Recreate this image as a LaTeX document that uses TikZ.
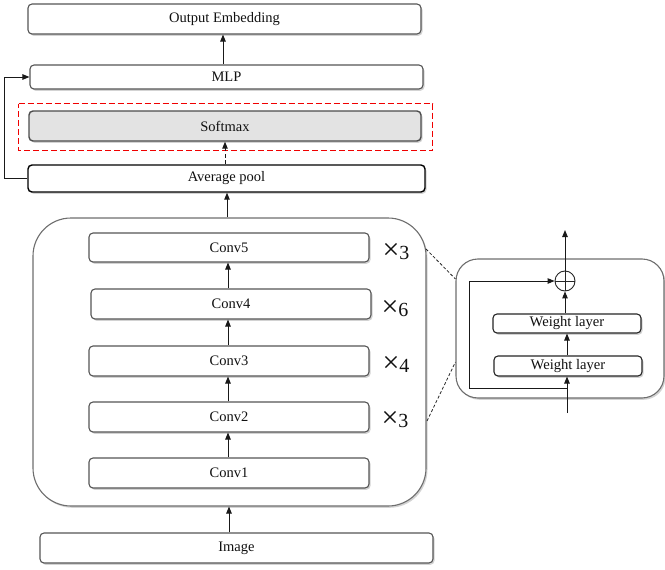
\documentclass[tikz,border=0pt]{standalone}
\usepackage{fontspec}
\setmainfont{Liberation Serif}
\usetikzlibrary{shadows,arrows.meta,calc}
\definecolor{edge}{HTML}{555555}
\definecolor{txt}{HTML}{111111}
\definecolor{redline}{RGB}{240,0,0}
\begin{document}
\begin{tikzpicture}[x=1pt,y=-1pt,
  box/.style={draw=edge, line width=1.1pt, rounded corners=4pt, fill=white, inner sep=0pt,
    text=txt, font=\fontsize{14.5}{16}\selectfont,
    drop shadow={shadow xshift=1.5pt, shadow yshift=-1.8pt, opacity=0.35, fill=gray}},
  wbox/.style={box, font=\fontsize{14.6}{16}\selectfont, line width=1.1pt, draw=black!85},
  arr/.style={-{Triangle[length=7pt,width=5.5pt]}, line width=1pt, draw=black!90},
  mult/.style={text=txt, font=\fontsize{20}{22}\selectfont, inner sep=0pt},
  reddash/.style={draw=redline, line width=1.3pt, dash pattern=on 6pt off 3pt},
  dline/.style={dashed, dash pattern=on 3pt off 2pt, line width=0.8pt, draw=black!85}]
\useasboundingbox (0,0) rectangle (665,570);

% top column
\node[box, minimum width=393pt, minimum height=30pt] (out) at (224.5,19) {Output Embedding};
\node[box, minimum width=393pt, minimum height=24pt] (mlp) at (226.5,77) {MLP};
\node[box, fill=black!11, draw=black!70, line width=1.4pt, minimum width=392pt, minimum height=30pt] (soft) at (225,126) {Softmax};
\coordinate (r1) at (18.5,103.5);
\coordinate (r2) at (432.5,103.5);
\coordinate (r3) at (432.5,150.5);
\coordinate (r4) at (18.5,150.5);
\draw[reddash] (r1) -- (r2) -- (r3) -- (r4) -- cycle;
\node[box, draw=black, line width=1.4pt, minimum width=397pt, minimum height=27pt] (avg) at (226.5,178.5) {Average pool};

% backbone
\node[box, draw=edge!85, line width=1.1pt, rounded corners=38pt, minimum width=393pt, minimum height=288pt] (big) at (229.5,362) {};
\node[box, minimum width=280pt, minimum height=29pt] (c5) at (229,247.5) {Conv5};
\node[box, minimum width=280pt, minimum height=30pt] (c4) at (231,304) {Conv4};
\node[box, minimum width=280pt, minimum height=30pt] (c3) at (229,361) {Conv3};
\node[box, minimum width=280pt, minimum height=30pt] (c2) at (229,417) {Conv2};
\node[box, minimum width=280pt, minimum height=30pt] (c1) at (229,473) {Conv1};
\node[mult] (m5) at (396,252) {{\fontsize{30}{30}\selectfont ×}3};
\node[mult] (m4) at (395,309) {{\fontsize{30}{30}\selectfont ×}6};
\node[mult] (m3) at (396,364) {{\fontsize{30}{30}\selectfont ×}4};
\node[mult] (m2) at (395,420) {{\fontsize{30}{30}\selectfont ×}3};
\node[box, minimum width=393pt, minimum height=30pt] (img) at (236.5,548) {Image};

% residual block
\node[box, draw=edge!85, line width=1.1pt, rounded corners=22pt, minimum width=208pt, minimum height=139pt] (res) at (560,328.5) {};
\node[wbox, minimum width=148pt, minimum height=19pt] (w2) at (567,323.5) {Weight layer};
\node[wbox, minimum width=148pt, minimum height=20pt] (w1) at (568,366) {Weight layer};
\node[circle, draw=black!85, line width=0.9pt, minimum size=20pt, inner sep=0pt] (op) at (565,281) {};
\draw[black!85, line width=0.9pt] (op.north) -- (op.south) (op.west) -- (op.east);
\coordinate (rin) at (567,413);
\coordinate (rout) at (565,230);
\coordinate (sk) at (567,388.5);
\coordinate (skl) at (469.5,388.5);

% connectors
\draw[arr] (mlp.north -| 223,0) -- (out.south -| 223,0);
\draw[arr, dashed, dash pattern=on 4pt off 2.5pt] (avg.north -| soft) -- (soft.south);
\draw[arr] (big.north -| 227,0) -- (avg.south -| 227,0);
\draw[arr] (avg.west) -- ++(-23,0) |- (mlp.west);
\draw[arr] (c1.north -| 228,0) -- (c2.south -| 228,0);
\draw[arr] (c2.north -| 228,0) -- (c3.south -| 228,0);
\draw[arr] (c3.north -| 228,0) -- (c4.south -| 228,0);
\draw[arr] (c4.north -| 228,0) -- (c5.south -| 228,0);
\draw[arr] (img.north -| 229,0) -- (big.south -| 229,0);

\draw[arr] (rin) -- (w1.south -| rin);
\draw[arr] (w1.north -| rin) -- (w2.south -| rin);
\draw[arr] (w2.north -| op) -- (op.south);
\draw[arr] (op.north) -- (rout);
\draw[arr] (sk) -- (skl) |- (op.west);

% zoom lines
\coordinate (za) at (426,249);
\coordinate (zb) at (427,421);
\draw[dline] (za) -- (res.west |- 0,279);
\draw[dline] (zb) -- (res.west |- 0,362);
\end{tikzpicture}
\end{document}
